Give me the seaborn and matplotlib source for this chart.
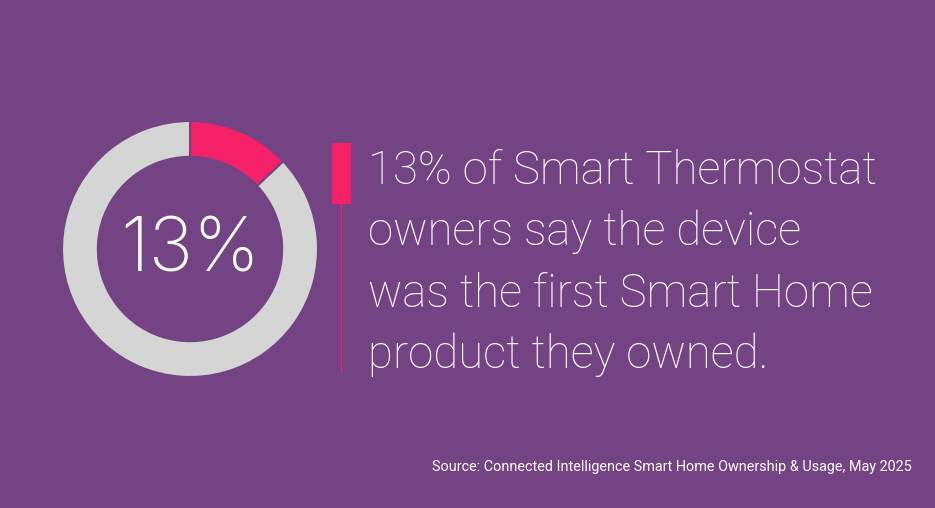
import matplotlib
matplotlib.use("Agg")
import matplotlib.pyplot as plt
import seaborn as sns

# data
labels = ["First smart home product", "Other"]
values = [13, 87]
headline_pct = "13%"
message_lines = ["13% of Smart Thermostat", "owners say the device",
                 "was the first Smart Home", "product they owned."]
source_text = "Source: Connected Intelligence Smart Home Ownership & Usage, May 2025"

BG = "#734383"
PINK = "#F52168"
GREY = "#D5D5D5"

sns.set_theme(style="white")
plt.rcParams['font.family'] = ['Roboto', 'DejaVu Sans']

W, H = 935, 508
fig = plt.figure(figsize=(W / 100, H / 100), dpi=100, facecolor=BG)

# donut axes: center (190, 249) px, radius 128 px
cx, cy, r = 190, 249, 128
ax = fig.add_axes([(cx - r) / W, 1 - (cy + r) / H, 2 * r / W, 2 * r / H])
ax.set_facecolor(BG)
colors = sns.color_palette([PINK, GREY])
ax.pie(values, colors=colors, startangle=90, counterclock=False, radius=1,
       wedgeprops=dict(width=0.28, edgecolor=BG, linewidth=1.5))
ax.set_xlim(-1, 1)
ax.set_ylim(-1, 1)
ax.set_aspect("equal")
ax.axis("off")
ax.text(0, -0.02, headline_pct, ha="center", va="center", color="white",
        fontsize=54, family=["Inter", "DejaVu Sans"], fontweight="light")

# accent bar and line
fig.patches.append(plt.Rectangle((331.5 / W, 1 - 203 / H), 18.5 / W, 60 / H,
                                 transform=fig.transFigure, color=PINK))
fig.lines.append(plt.Line2D([341 / W, 341 / W], [1 - 203 / H, 1 - 372 / H],
                            transform=fig.transFigure, color=PINK, lw=0.8))

# message
baselines = [184, 245.3, 306.6, 368]
for yb, line in zip(baselines, message_lines):
    fig.text(368 / W, 1 - yb / H, line, color="white", fontsize=32.8,
             fontweight="light", ha="left", va="baseline")

fig.text(912 / W, 1 - 471 / H, source_text, color="white", fontsize=10.4,
         ha="right", va="baseline")

fig.savefig("out.png", dpi=100, facecolor=BG)
